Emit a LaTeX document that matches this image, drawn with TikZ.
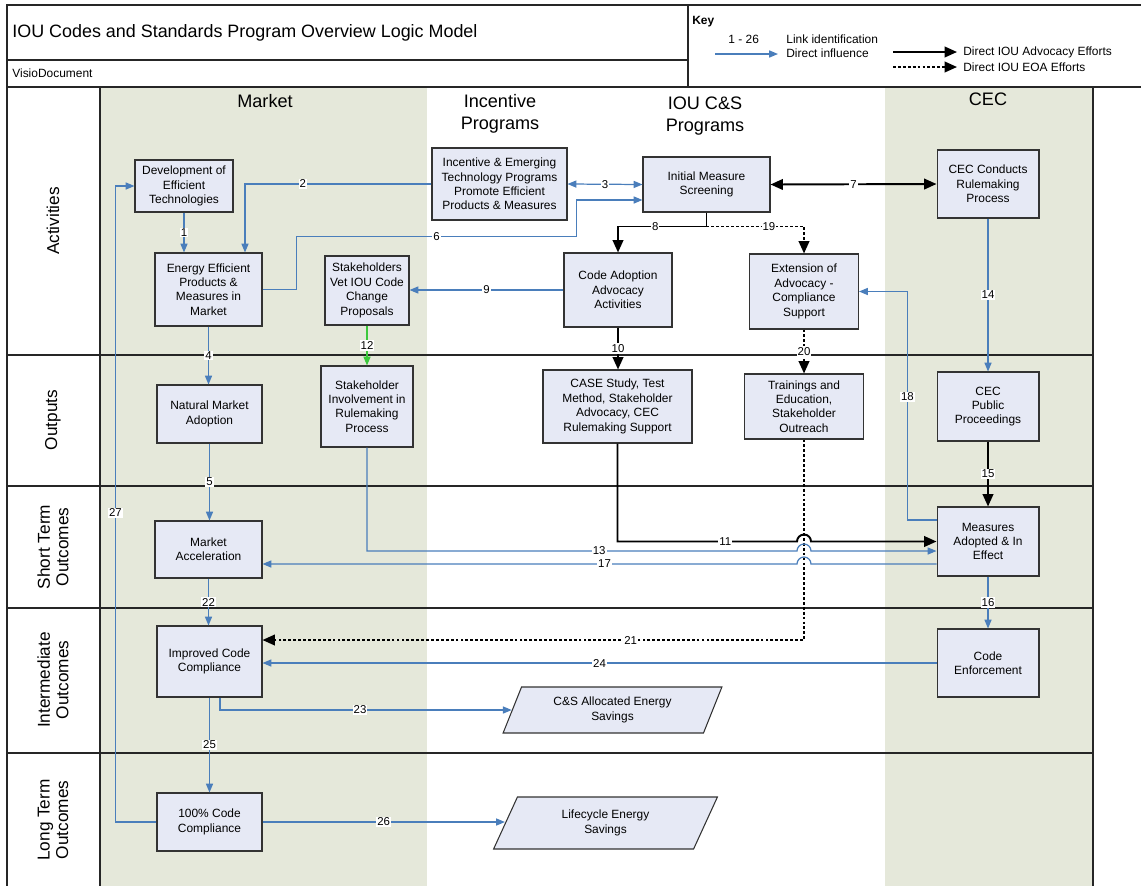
\documentclass[tikz,border=0pt]{standalone}
\usepackage{fontspec}
\setmainfont{Liberation Sans}
\usetikzlibrary{arrows.meta, shapes.geometric, calc}
\definecolor{LaneTan}{HTML}{E5E8DA}
\definecolor{BoxBlue}{HTML}{E6E9F5}
\definecolor{LinkBlue}{HTML}{4A7EBB}
\definecolor{LinkGreen}{HTML}{3CC83C}

\begin{document}
\begin{tikzpicture}[x=0.02cm, y=-0.02cm,
    box/.style={draw=black!80, fill=BoxBlue, line width=0.6pt, align=center,
        font=\fontsize{6.8}{8.2}\selectfont, inner sep=1pt},
    para/.style={box, trapezium, trapezium left angle=67, trapezium right angle=113,
        trapezium stretches=true},
    frame/.style={draw=black!85, line width=0.85pt},
    lbl/.style={fill=white, inner sep=0.6pt, font=\fontsize{6.5}{7}\selectfont},
    blu/.style={draw=LinkBlue, line width=0.7pt, -{Triangle[length=5pt,width=4pt]}},
    bluboth/.style={blu, {Triangle[length=5pt,width=4pt]}-{Triangle[length=5pt,width=4pt]}},
    blk/.style={draw=black, line width=1.1pt, -{Triangle[length=7pt,width=6pt]}},
    blkboth/.style={blk, {Triangle[length=7pt,width=6pt]}-{Triangle[length=7pt,width=6pt]}},
    blkd/.style={blk, dash pattern=on 1.6pt off 1.2pt},
    rowlbl/.style={rotate=90, align=center, font=\fontsize{9.8}{10.5}\selectfont},
    lanelbl/.style={align=center, font=\fontsize{10.3}{12.7}\selectfont},
    keytxt/.style={anchor=west, inner sep=0pt, font=\fontsize{6.8}{8}\selectfont}]
    \useasboundingbox (0,0) rectangle (1141,886);

    % Lanes
    \fill[LaneTan] (100,87) rectangle (427,886);
    \fill[LaneTan] (885,87) rectangle (1093,886);
    \draw[frame] (7,87) -- (7,886);
    \draw[frame] (100,87) -- (100,886);
    \draw[frame] (1093,87) -- (1093,886);
    \foreach \y in {355,486,608,753} \draw[frame] (7,\y) -- (1093,\y);

    % Title and key boxes
    \draw[frame] (7,5) rectangle (688,87);
    \draw[frame] (7,60) -- (688,60);
    \draw[frame] (688,5) -- (1141,5);
    \draw[frame] (688,87) -- (1141,87);
    \node[anchor=west, inner sep=0pt, font=\fontsize{10.2}{12}\selectfont] (title) at (12,33) {IOU Codes and Standards Program Overview Logic Model};
    \node[anchor=west, inner sep=0pt, font=\fontsize{6.8}{8}\selectfont] (visio) at (12,73) {VisioDocument};

    % Key
    \node[keytxt, font=\bfseries\fontsize{6.8}{8}\selectfont] (keyttl) at (692,22) {Key};
    \node[keytxt] (knum) at (728,39) {1 - 26};
    \node[keytxt] (kid) at (786,39) {Link identification};
    \node[keytxt] (kinf) at (786,53) {Direct influence};
    \node[keytxt] (kadv) at (963,52) {Direct IOU Advocacy Efforts};
    \node[keytxt] (keoa) at (963,67) {Direct IOU EOA Efforts};
    \draw[blu] ($(kinf.west)+(-71,1)$) -- ($(kinf.west)+(-8,1)$);
    \draw[blk] ($(kadv.west)+(-70,0)$) -- ($(kadv.west)+(-6,0)$);
    \draw[blkd] ($(keoa.west)+(-70,0)$) -- ($(keoa.west)+(-6,0)$);

    % Row and lane headings
    \node[rowlbl] (ract) at (53,221) {Activities};
    \node[rowlbl] (rout) at (53,420) {Outputs};
    \node[rowlbl] (rst) at (53,547) {Short Term\\Outcomes};
    \node[rowlbl] (rint) at (53,680) {Intermediate\\Outcomes};
    \node[rowlbl] (rlt) at (53,820) {Long Term\\Outcomes};
    \node[lanelbl] (hmkt) at (265,101) {Market};
    \node[lanelbl] (hinc) at (500,114) {Incentive\\Programs};
    \node[lanelbl] (hiou) at (705,116) {IOU C\&S\\Programs};
    \node[lanelbl] (hcec) at (988,99) {CEC};

    % Activities
    \node[box, minimum width=1.96cm, minimum height=1.04cm] (dev) at (184,186) {Development of\\Efficient\\Technologies};
    \node[box, minimum width=2.14cm, minimum height=1.46cm] (eep) at (208.5,289.5) {Energy Efficient\\Products \&\\Measures in\\Market};
    \node[box, minimum width=1.68cm, minimum height=1.38cm] (vet) at (367,290.5) {Stakeholders\\Vet IOU Code\\Change\\Proposals};
    \node[box, minimum width=2.7cm, minimum height=1.44cm] (inc) at (499.5,184) {Incentive \& Emerging\\Technology Programs\\Promote Efficient\\Products \& Measures};
    \node[box, minimum width=2.54cm, minimum height=1.1cm] (scr) at (706.5,184.5) {Initial Measure\\Screening};
    \node[box, minimum width=2.16cm, minimum height=1.48cm] (cad) at (618,290) {Code Adoption\\Advocacy\\Activities};
    \node[box, minimum width=2.18cm, minimum height=1.5cm] (ext) at (804,291.5) {Extension of\\Advocacy -\\Compliance\\Support};
    \node[box, minimum width=2.04cm, minimum height=1.36cm] (rule) at (988,184) {CEC Conducts\\Rulemaking\\Process};

    % Outputs
    \node[box, minimum width=2.1cm, minimum height=1.16cm] (nma) at (209.5,414) {Natural Market\\Adoption};
    \node[box, minimum width=1.84cm, minimum height=1.62cm] (inv) at (367,406.5) {Stakeholder\\Involvement in\\Rulemaking\\Process};
    \node[box, minimum width=2.98cm, minimum height=1.46cm] (case) at (617.5,406.5) {CASE Study, Test\\Method, Stakeholder\\Advocacy, CEC\\Rulemaking Support};
    \node[box, minimum width=2.38cm, minimum height=1.3cm] (trn) at (804,406.5) {Trainings and\\Education,\\Stakeholder\\Outreach};
    \node[box, minimum width=2.04cm, minimum height=1.38cm] (pub) at (988,406.5) {CEC\\Public\\Proceedings};

    % Outcomes
    \node[box, minimum width=2.14cm, minimum height=1.14cm] (macc) at (208.5,549.5) {Market\\Acceleration};
    \node[box, minimum width=2.04cm, minimum height=1.38cm] (adopt) at (988,541.5) {Measures\\Adopted \& In\\Effect};
    \node[box, minimum width=2.1cm, minimum height=1.42cm] (icc) at (209.5,661.5) {Improved Code\\Compliance};
    \node[box, minimum width=2.04cm, minimum height=1.36cm] (enf) at (988,663) {Code\\Enforcement};
    \node[para, minimum width=4.38cm, minimum height=0.92cm] (cs) at (612.5,710) {C\&S Allocated Energy\\Savings};
    \node[box, minimum width=2.1cm, minimum height=1.16cm] (full) at (209.5,822) {100\% Code\\Compliance};
    \node[para, minimum width=4.5cm, minimum height=1.04cm] (life) at (605.5,823) {Lifecycle Energy\\Savings};

    % Links
    \draw[blu] (dev.south) -- node[lbl]{1} (dev.south |- eep.north);
    \draw[blu] (inc.west) -| node[lbl, pos=0.345]{2} ([xshift=0.73cm]eep.north);
    \draw[bluboth] (inc.east) -- node[lbl]{3} (scr.west);
    \draw[blu] (eep.south) -- node[lbl]{4} (eep.south |- nma.north);
    \draw[blu] (nma.south) -- node[lbl]{5} (nma.south |- macc.north);
    \draw[blu] (eep.east) -- ++(34,0) -- ++(0,-53) -- node[lbl]{6} ++(280,0) |- ([yshift=-0.31cm]scr.west);
    \draw[blkboth] (scr.east) -- node[lbl]{7} (rule.west);
    \coordinate (split) at ([yshift=-0.28cm]scr.south);
    \draw[blk] (scr.south) -- (split) -| node[lbl, pos=0.29]{8} (cad.north);
    \draw[blkd] (split) -| node[lbl, pos=0.32]{19} (ext.north);
    \draw[blu] (cad.west) -- node[lbl]{9} (cad.west -| vet.east);
    \draw[blk] (cad.south) -- node[lbl]{10} (cad.south |- case.north);
    \draw[blkd] (ext.south) -- node[lbl]{20} (trn.north);
    \draw[blu, draw=LinkGreen] (vet) -- node[lbl]{12} (inv);
    \draw[blu] (rule) -- node[lbl]{14} (pub);
    \draw[blk] (pub) -- node[lbl]{15} (adopt);
    \draw[blu] (adopt) -- node[lbl]{16} (enf);
    \coordinate (a18) at ([yshift=0.43cm]adopt.west);
    \draw[blu] (a18) -- ++(-29,0) |- node[lbl, pos=0.27]{18} (ext.east);
    \draw[blkd] (trn.south) |- node[lbl, pos=0.66]{21} ([yshift=0.43cm]icc.east);
    % hops over link 21
    \draw[blk] (case.south) |- node[lbl, pos=0.8]{11} ($(trn.south |- adopt.west)+(-7,0)$) arc[start angle=180, end angle=0, radius=0.14cm] -- (adopt.west);
    \coordinate (a13) at ([yshift=-0.19cm]adopt.west);
    \draw[blu] (inv.south) |- node[lbl, pos=0.77]{13} ($(trn.south |- a13)+(-7,0)$) arc[start angle=180, end angle=0, radius=0.14cm] -- (a13);
    \coordinate (a17) at ([yshift=-0.45cm]adopt.west);
    \draw[blu] (a17) -- ($(trn.south |- a17)+(7,0)$) arc[start angle=0, end angle=180, radius=0.14cm] -- node[lbl, pos=0.36]{17} (macc.east |- a17);
    \draw[blu] (macc.south) -- node[lbl]{22} (macc.south |- icc.north);
    \draw[blu] ([xshift=0.21cm]icc.south) |- node[lbl, pos=0.74]{23} (cs.left side);
    \draw[blu] (enf.west) -- node[lbl]{24} (enf.west -| icc.east);
    \draw[blu] (icc) -- node[lbl]{25} (full);
    \draw[blu] (full.east) -- node[lbl]{26} (full.east -| life.left side);
    \draw[blu] (full.west) -- ++(-41,0) |- node[lbl, pos=0.243]{27} (dev.west);

\end{tikzpicture}
\end{document}
